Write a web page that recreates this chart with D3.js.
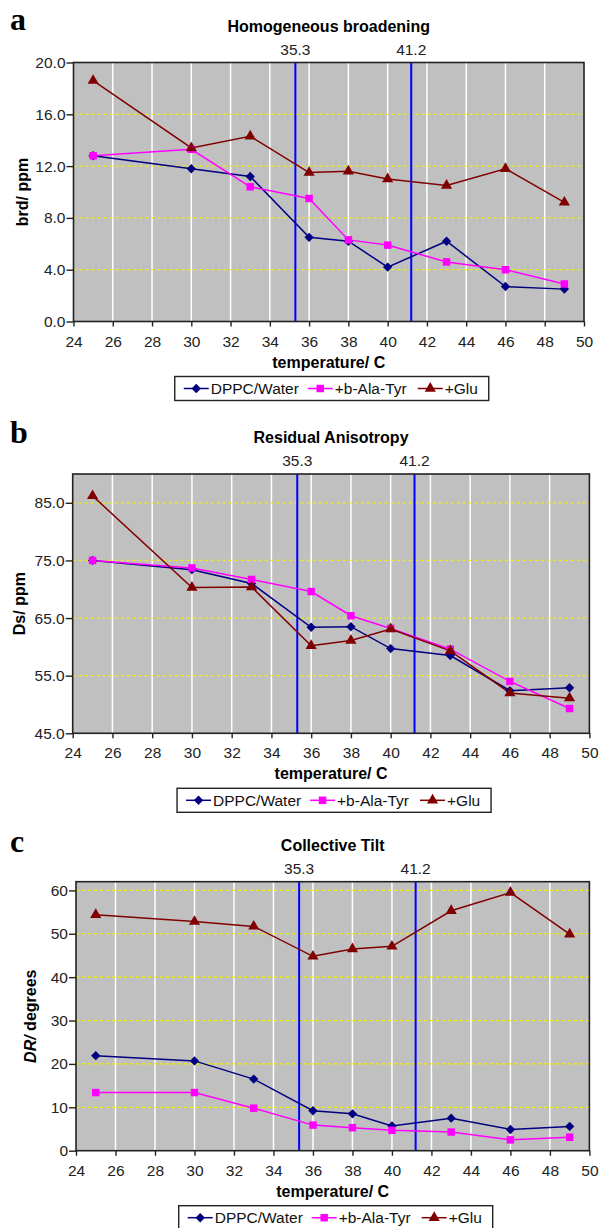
<!DOCTYPE html>
<html>
<head>
<meta charset="utf-8">
<script src="https://cdn.jsdelivr.net/npm/d3@7"></script>
<style>
  body { margin: 0; background: #fff; }
  svg { display: block; font-family: "Liberation Sans", Arial, sans-serif; }
</style>
</head>
<body>
<div id="chart"></div>
<script>
// temperatures (C) measured
const temps = [25, 30, 33, 36, 38, 40, 43, 46, 49];
const xTickValues = [24, 26, 28, 30, 32, 34, 36, 38, 40, 42, 44, 46, 48, 50];
// transition temperatures marked with blue lines
const transitionTemps = [35.3, 41.2];
const seriesNames = ["DPPC/Water", "+b-Ala-Tyr", "+Glu"];

// a - homogeneous broadening (ppm)
const brdWater = [12.8, 11.8, 11.2, 6.5, 6.2, 4.2, 6.2, 2.7, 2.5];
const brdAlaTyr = [12.8, 13.3, 10.4, 9.5, 6.3, 5.9, 4.6, 4.0, 2.9];
const brdGlu = [18.6, 13.4, 14.3, 11.5, 11.6, 11.0, 10.5, 11.8, 9.2];
const brdTicks = [0, 4, 8, 12, 16, 20];

// b - residual anisotropy (ppm)
const dsWater = [75.0, 73.4, 71.0, 63.4, 63.5, 59.7, 58.5, 52.4, 52.9];
const dsAlaTyr = [75.0, 73.7, 71.7, 69.6, 65.4, 63.2, 59.6, 54.0, 49.3];
const dsGlu = [86.2, 70.3, 70.4, 60.2, 61.1, 63.1, 59.3, 52.0, 51.1];
const dsTicks = [45, 55, 65, 75, 85];

// c - collective tilt (degrees)
const tiltWater = [21.9, 20.7, 16.5, 9.2, 8.5, 5.7, 7.5, 4.9, 5.6];
const tiltAlaTyr = [13.4, 13.4, 9.8, 5.9, 5.3, 4.7, 4.3, 2.5, 3.1];
const tiltGlu = [54.4, 52.8, 51.7, 44.8, 46.5, 47.1, 55.3, 59.5, 49.9];
const tiltTicks = [0, 10, 20, 30, 40, 50, 60];

const colors = ["#000080", "#ff00ff", "#800000"];

const svg = d3.select("#chart").append("svg")
    .attr("width", 600)
    .attr("height", 1228);

svg.append("rect").attr("width", 600).attr("height", 1228).attr("fill", "#fff");

// marker shapes: diamond, square, triangle
function addMarker(g, i, x, y){
  if(i === 0){
    g.append("path")
      .attr("d", d3.symbol().type(d3.symbolSquare).size(44)())
      .attr("transform", "translate(" + x + "," + y + ") rotate(45)")
      .attr("fill", colors[i]);
  } else if(i === 1){
    g.append("path")
      .attr("d", d3.symbol().type(d3.symbolSquare).size(56)())
      .attr("transform", "translate(" + x + "," + y + ")")
      .attr("fill", colors[i]);
  } else {
    g.append("path")
      .attr("d", d3.symbol().type(d3.symbolTriangle).size(54)())
      .attr("transform", "translate(" + x + "," + y + ")")
      .attr("fill", colors[i]);
  }
}

function drawPanel(p){

  const x = d3.scaleLinear().domain([24, 50]).range([p.left, p.right]);
  const y = d3.scaleLinear().domain(p.yDomain).range([p.bottom, p.top]);
  const g = svg.append("g");
  const cx = (p.left + p.right) / 2;

  // letter + title
  g.append("text")
    .attr("x", 10).attr("y", p.letterY)
    .style("font-family", "'Liberation Serif', 'DejaVu Serif', serif")
    .style("font-weight", "bold")
    .style("font-size", "32px")
    .text(p.letter);

  g.append("text")
    .attr("x", cx).attr("y", p.top - 31)
    .attr("text-anchor", "middle")
    .style("font-weight", "bold")
    .style("font-size", "16px")
    .text(p.title);

  // plot area
  g.append("rect")
    .attr("x", p.left).attr("y", p.top)
    .attr("width", p.right - p.left).attr("height", p.bottom - p.top)
    .attr("fill", "#c0c0c0");

  g.selectAll(".vgrid")
    .data(xTickValues.slice(1, -1))
    .join("line")
      .attr("x1", d => x(d)).attr("x2", d => x(d))
      .attr("y1", p.top).attr("y2", p.bottom)
      .attr("stroke", "#fff")
      .attr("stroke-width", 1.5);

  g.selectAll(".hgrid")
    .data(p.yTicks.slice(1))
    .join("line")
      .attr("x1", p.left).attr("x2", p.right)
      .attr("y1", d => y(d)).attr("y2", d => y(d))
      .attr("stroke", "#f0f000")
      .attr("stroke-width", 1.2)
      .attr("stroke-dasharray", "3,3");

  // transition lines
  g.selectAll(".trans")
    .data(transitionTemps)
    .join("line")
      .attr("x1", d => x(d)).attr("x2", d => x(d))
      .attr("y1", p.top).attr("y2", p.bottom)
      .attr("stroke", "#0000ff")
      .attr("stroke-width", 2);

  g.selectAll(".transLabel")
    .data(transitionTemps)
    .join("text")
      .attr("x", d => x(d)).attr("y", p.top - 8)
      .attr("text-anchor", "middle")
      .style("font-size", "15.5px")
      .attr("fill", "#222")
      .text(d => d.toFixed(1));

  // series
  const line = d3.line().x((d, i) => x(temps[i])).y(d => y(d));
  p.series.forEach(function(s, i){
    g.append("path")
      .attr("d", line(s))
      .attr("fill", "none")
      .attr("stroke", colors[i])
      .attr("stroke-width", 1.5);
  });
  p.series.forEach(function(s, i){
    s.forEach(function(v, j){ addMarker(g, i, x(temps[j]), y(v)) });
  });

  // frame
  g.append("rect")
    .attr("x", p.left).attr("y", p.top)
    .attr("width", p.right - p.left).attr("height", p.bottom - p.top)
    .attr("fill", "none")
    .attr("stroke", "#222")
    .attr("stroke-width", 1.6);

  // axes
  const xa = g.append("g")
    .attr("transform", "translate(0," + p.bottom + ")")
    .call(d3.axisBottom(x).tickValues(xTickValues).tickSize(5).tickSizeOuter(0).tickPadding(9).tickFormat(d3.format("d")));
  const ya = g.append("g")
    .attr("transform", "translate(" + p.left + ",0)")
    .call(d3.axisLeft(y).tickValues(p.yTicks).tickSize(7).tickSizeOuter(0).tickPadding(1).tickFormat(d3.format(p.fmt)));

  [xa, ya].forEach(function(a){
    a.select(".domain").remove();
    a.selectAll("line").attr("stroke", "#222").attr("stroke-width", 1.4);
    a.selectAll("text")
      .style("font-family", "'Liberation Sans', Arial, sans-serif")
      .style("font-size", "15.5px")
      .attr("fill", "#222");
  });

  g.append("text")
    .attr("x", cx).attr("y", p.bottom + 46)
    .attr("text-anchor", "middle")
    .style("font-weight", "bold")
    .style("font-size", "16px")
    .text("temperature/ C");

  const yl = g.append("text")
    .attr("transform", "translate(" + p.ylabelX + "," + ((p.top + p.bottom) / 2) + ") rotate(-90)")
    .attr("text-anchor", "middle")
    .attr("dy", "0.35em")
    .style("font-weight", "bold")
    .style("font-size", "16px");
  if(p.ylabelItalic){
    yl.append("tspan").style("font-style", "italic").text(p.ylabelItalic);
  }
  yl.append("tspan").text(p.ylabel);

  // legend
  const lx = cx - 154, ly = p.bottom + 55;
  const lg = g.append("g").attr("transform", "translate(" + lx + "," + ly + ")");
  lg.append("rect")
    .attr("width", 314).attr("height", 24)
    .attr("fill", "#fff")
    .attr("stroke", "#222")
    .attr("stroke-width", 1.4);
  const itemX = [9, 133, 243];
  seriesNames.forEach(function(name, i){
    lg.append("line")
      .attr("x1", itemX[i]).attr("x2", itemX[i] + 25)
      .attr("y1", 12).attr("y2", 12)
      .attr("stroke", colors[i]).attr("stroke-width", 1.5);
    addMarker(lg, i, itemX[i] + 12.5, 12);
    lg.append("text")
      .attr("x", itemX[i] + 27).attr("y", 17.5)
      .style("font-size", "15.5px")
      .attr("fill", "#111")
      .text(name);
  });
}

drawPanel({
  letter: "a", letterY: 30, title: "Homogeneous broadening",
  left: 73.5, right: 584, top: 62.5, bottom: 321.5,
  yDomain: [0, 20], yTicks: brdTicks, fmt: ".1f",
  ylabel: "brd/ ppm", ylabelX: 22,
  series: [brdWater, brdAlaTyr, brdGlu]
});

drawPanel({
  letter: "b", letterY: 443, title: "Residual Anisotropy",
  left: 72.7, right: 589.4, top: 474, bottom: 733.3,
  yDomain: [45, 90], yTicks: dsTicks, fmt: ".1f",
  ylabel: "Ds/ ppm", ylabelX: 19,
  series: [dsWater, dsAlaTyr, dsGlu]
});

drawPanel({
  letter: "c", letterY: 852, title: "Collective Tilt",
  left: 76, right: 589.4, top: 881.7, bottom: 1150.7,
  yDomain: [0, 62], yTicks: tiltTicks, fmt: "d",
  ylabelItalic: "DR/", ylabel: " degrees", ylabelX: 30,
  series: [tiltWater, tiltAlaTyr, tiltGlu]
});
</script>
</body>
</html>
